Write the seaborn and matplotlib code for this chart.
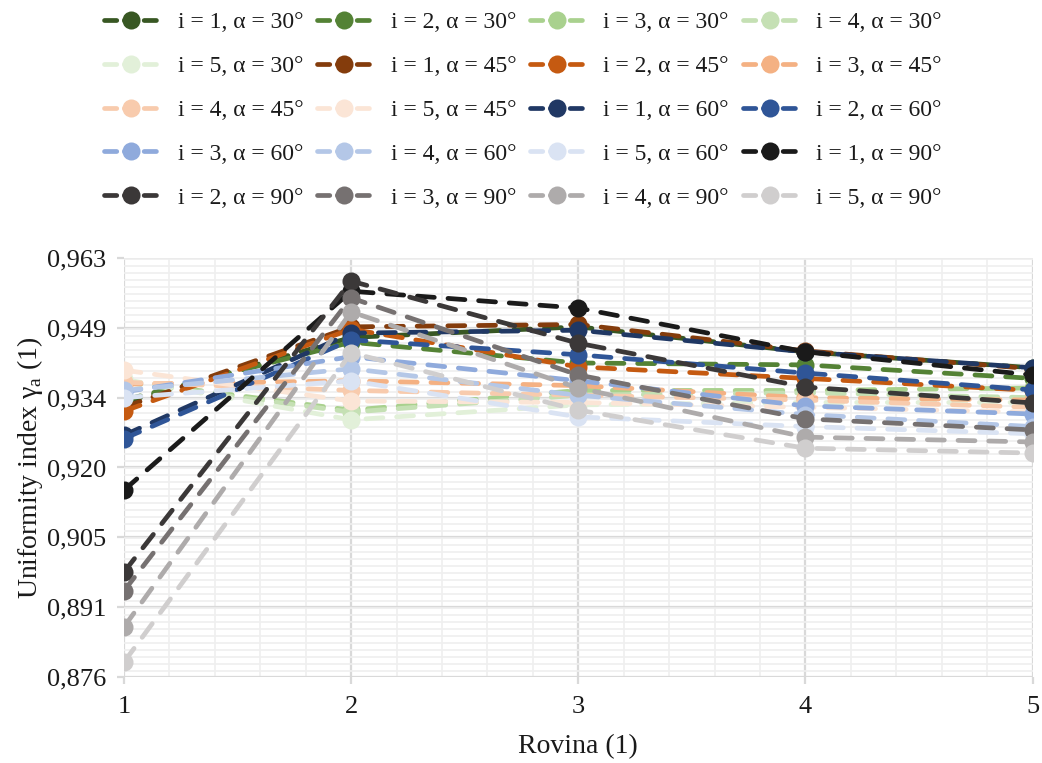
import numpy as np
import pandas as pd
import matplotlib.pyplot as plt
from matplotlib.ticker import FixedLocator, MultipleLocator
import seaborn as sns

# Data
rovina = [1, 2, 3, 4, 5]

labels = [
    "i = 1, α = 30°", "i = 2, α = 30°", "i = 3, α = 30°", "i = 4, α = 30°", "i = 5, α = 30°",
    "i = 1, α = 45°", "i = 2, α = 45°", "i = 3, α = 45°", "i = 4, α = 45°", "i = 5, α = 45°",
    "i = 1, α = 60°", "i = 2, α = 60°", "i = 3, α = 60°", "i = 4, α = 60°", "i = 5, α = 60°",
    "i = 1, α = 90°", "i = 2, α = 90°", "i = 3, α = 90°", "i = 4, α = 90°", "i = 5, α = 90°",
]

a30 = [
    [0.9330, 0.9465, 0.9487, 0.9435, 0.9402],
    [0.9335, 0.9455, 0.9412, 0.9408, 0.9380],
    [0.9375, 0.9314, 0.9355, 0.9355, 0.9360],
    [0.9372, 0.9310, 0.9345, 0.9350, 0.9340],
    [0.9378, 0.9294, 0.9325, 0.9330, 0.9330],
]
a45 = [
    [0.9320, 0.9487, 0.9492, 0.9437, 0.9400],
    [0.9312, 0.9482, 0.9404, 0.9380, 0.9355],
    [0.9368, 0.9375, 0.9365, 0.9340, 0.9335],
    [0.9372, 0.9355, 0.9345, 0.9335, 0.9320],
    [0.9397, 0.9333, 0.9330, 0.9320, 0.9310],
]
a60 = [
    [0.9262, 0.9474, 0.9480, 0.9435, 0.9402],
    [0.9255, 0.9460, 0.9429, 0.9391, 0.9356],
    [0.9352, 0.9425, 0.9375, 0.9323, 0.9306],
    [0.9355, 0.9400, 0.9345, 0.9305, 0.9280],
    [0.9340, 0.9375, 0.9300, 0.9280, 0.9265],
]
a90 = [
    [0.9148, 0.9561, 0.9526, 0.9435, 0.9387],
    [0.8978, 0.9582, 0.9453, 0.9362, 0.9329],
    [0.8939, 0.9547, 0.9387, 0.9296, 0.9273],
    [0.8864, 0.9518, 0.9360, 0.9258, 0.9248],
    [0.8791, 0.9433, 0.9314, 0.9235, 0.9225],
]

colors = [
    "#385723", "#548235", "#a9d18e", "#c5e0b4", "#e2f0d9",
    "#843c0c", "#c55a11", "#f4b183", "#f8cbad", "#fbe5d6",
    "#203864", "#2f5597", "#8faadc", "#b4c7e7", "#dae3f3",
    "#1a1a1a", "#3b3838", "#767171", "#aeabab", "#d0cece",
]

y_ticks = [0.876, 0.8905, 0.905, 0.9195, 0.934, 0.9485, 0.963]
y_ticklabels = ["0,876", "0,891", "0,905", "0,920", "0,934", "0,949", "0,963"]

# long-form table
rows = []
for name, vals in zip(labels, a30 + a45 + a60 + a90):
    for x, v in zip(rovina, vals):
        rows.append({"Rovina": x, "value": v, "series": name})
df = pd.DataFrame(rows)

sns.set_theme(style="white")
plt.rcParams['font.family'] = ['Liberation Serif', 'DejaVu Serif']
plt.rcParams['mathtext.fontset'] = 'custom'
plt.rcParams['mathtext.rm'] = 'Liberation Serif'

txt = "#1a1a1a"

fig = plt.figure(figsize=(10.42, 7.63), dpi=100)
ax = fig.add_axes([0.119, 0.1127, 0.872, 0.5492])

sns.lineplot(
    data=df, x="Rovina", y="value", hue="series", style="series",
    hue_order=labels, style_order=labels, palette=colors,
    markers={l: "o" for l in labels}, dashes={l: (3.6, 2.9) for l in labels},
    linewidth=3.4, markersize=13, markeredgewidth=0,
    dash_capstyle="round", ax=ax, legend=True,
)

ax.set_xlim(1, 5)
ax.set_ylim(0.876, 0.963)
ax.xaxis.set_major_locator(FixedLocator(rovina))
ax.xaxis.set_minor_locator(MultipleLocator(0.2))
ax.yaxis.set_major_locator(FixedLocator(y_ticks))
ax.yaxis.set_minor_locator(MultipleLocator(0.00145))
ax.set_yticklabels(y_ticklabels)

ax.grid(which="major", color="#d9d9d9", linewidth=1.6)
ax.grid(which="minor", color="#efefef", linewidth=1.2)
ax.set_axisbelow(True)
for s in ax.spines.values():
    s.set_visible(False)
ax.tick_params(axis="both", which="major", labelsize=19, color="#d9d9d9",
               length=5, width=1.6, labelcolor=txt, bottom=True, left=True)
ax.tick_params(axis="x", which="major", pad=9)
ax.tick_params(axis="y", which="major", pad=8)
ax.tick_params(which="minor", length=0)

ax.set_xlabel("Rovina (1)", fontsize=20, color=txt, labelpad=11)
ax.set_ylabel("Uniformity index γ$_\\mathregular{a}$ (1)", fontsize=20, color=txt, labelpad=1)

# legend: row-major order across 4 columns
handles, labs = ax.get_legend_handles_labels()
ax.get_legend().remove()
order = [r * 4 + c for c in range(4) for r in range(5)]
leg = fig.legend([handles[k] for k in order], [labs[k] for k in order],
                 ncol=4, loc="upper center", bbox_to_anchor=(0.502, 1.013),
                 frameon=False, fontsize=17, handlelength=2.3, columnspacing=0.6,
                 labelspacing=0.95, handletextpad=0.8, labelcolor=txt)
for ln in leg.get_lines():
    ln.set_dashes((2.6, 1.6))
    ln.set_dash_capstyle("round")

fig.savefig("out.png", dpi=100)
